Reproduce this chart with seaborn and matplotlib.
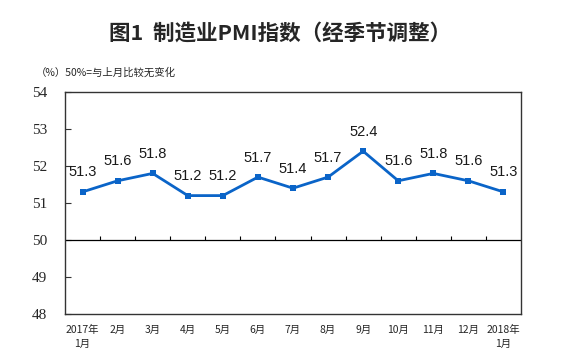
import numpy as np
import pandas as pd
import seaborn as sns
import matplotlib.pyplot as plt

# Data
months = ["2017年\n1月", "2月", "3月", "4月", "5月", "6月", "7月", "8月", "9月",
          "10月", "11月", "12月", "2018年\n1月"]
pmi = [51.3, 51.6, 51.8, 51.2, 51.2, 51.7, 51.4, 51.7, 52.4, 51.6, 51.8, 51.6, 51.3]
y_ticks = [48, 49, 50, 51, 52, 53, 54]

df = pd.DataFrame({"pos": np.arange(len(months)), "pmi": pmi})

sns.set_style("white")
plt.rcParams['font.family'] = ['Noto Sans CJK SC', 'DejaVu Sans']

fig = plt.figure(figsize=(5.85, 3.63), dpi=100)
ax = fig.add_axes([65 / 585, 1 - 314 / 363, 456 / 585, 222 / 363])

sns.lineplot(data=df, x="pos", y="pmi", ax=ax, color="#0a64c8", linewidth=2,
             marker="s", markersize=4.5, markeredgewidth=0)

ax.set_xlim(-0.5, len(months) - 0.5)
ax.set_ylim(48, 54)
ax.set_yticks(y_ticks)
ax.set_yticklabels([str(v) for v in y_ticks])
for lbl in ax.get_yticklabels():
    lbl.set_family("Liberation Serif")
    lbl.set_fontsize(11)
ax.tick_params(axis="y", direction="in", length=4, width=0.8, pad=13, color="#333333", left=True)

ax.set_xticks(df["pos"])
ax.set_xticklabels(months, fontsize=7.5, linespacing=1.5)
ax.tick_params(axis="x", length=0, pad=8)

# line at 50 with category boundary ticks
ax.axhline(50, color="black", linewidth=0.9)
bounds = np.arange(0.5, len(months) - 0.5, 1)
ax.vlines(bounds, 50, 50.11, color="black", linewidth=0.8)

for s in ax.spines.values():
    s.set_color("#333333")
    s.set_linewidth(1.0)

ax.set_xlabel("")
ax.set_ylabel("")

for x, v in zip(df["pos"], df["pmi"]):
    ax.annotate(f"{v:.1f}", (x, v), xytext=(0, 9), textcoords="offset points",
                ha="center", va="bottom", fontsize=10.5, family="Liberation Sans",
                color="#1a1a1a")

fig.text(280 / 585, 1 - 33 / 363, "图1  制造业PMI指数（经季节调整）", ha="center", va="center",
         fontsize=15.5, fontweight="bold")
fig.text(36 / 585, 1 - 73 / 363, "（%）50%=与上月比较无变化", ha="left", va="center",
         fontsize=7.5)

fig.savefig("out.png", dpi=100)
